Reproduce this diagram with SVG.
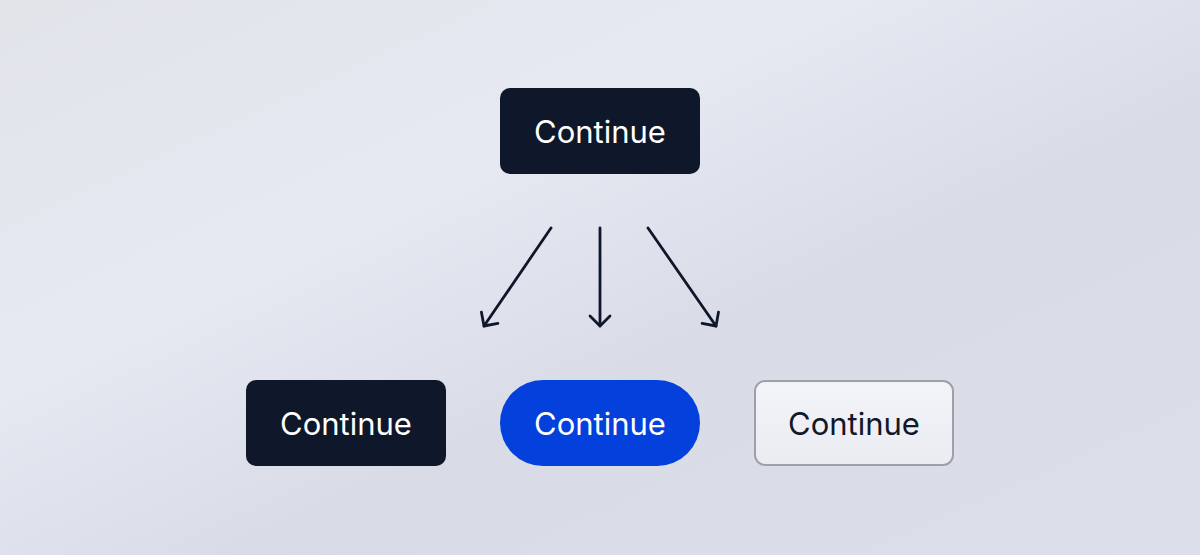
<svg xmlns="http://www.w3.org/2000/svg" width="1200" height="555" viewBox="0 0 1200 555">
<defs>
<linearGradient id="bg" x1="0" y1="0" x2="1" y2="1">
<stop offset="0" stop-color="#e2e4ea"/>
<stop offset="0.35" stop-color="#e6e9f2"/>
<stop offset="0.6" stop-color="#d9dce7"/>
<stop offset="1" stop-color="#dcdfe9"/>
</linearGradient>
<linearGradient id="light" x1="0" y1="0" x2="0" y2="1">
<stop offset="0" stop-color="#f3f4f8"/>
<stop offset="1" stop-color="#eaecf2"/>
</linearGradient>
<marker id="ah" viewBox="0 0 24 24" refX="12" refY="12" markerWidth="24" markerHeight="24" markerUnits="userSpaceOnUse" orient="auto">
<path d="M2,2 L12,12 L2,22" fill="none" stroke="#0f172a" stroke-width="2.8" stroke-linecap="round" stroke-linejoin="round"/>
</marker>
<style>
.lbl{font-family:Inter,"Liberation Sans",sans-serif;font-size:31px;text-anchor:middle;dominant-baseline:central}
.w{fill:#ffffff}
.d{fill:#111827}
.ar{stroke:#0f172a;stroke-width:2.8;fill:none;stroke-linecap:round;marker-end:url(#ah)}
</style>
</defs>
<rect width="1200" height="555" fill="url(#bg)"/>
<g id="top">
<rect x="500" y="88" width="200" height="86" rx="10" fill="#0f172a"/>
<text class="lbl w" x="600" y="131">Continue</text>
</g>
<g id="connectors">
<line class="ar" x1="551" y1="228" x2="484" y2="326"/>
<line class="ar" x1="600" y1="228" x2="600" y2="326"/>
<line class="ar" x1="648" y1="228" x2="716" y2="326"/>
</g>
<g id="left">
<rect x="246" y="380" width="200" height="86" rx="10" fill="#0f172a"/>
<text class="lbl w" x="346" y="423">Continue</text>
</g>
<g id="middle">
<rect x="500" y="380" width="200" height="86" rx="43" fill="#0340dc"/>
<text class="lbl w" x="600" y="423">Continue</text>
</g>
<g id="right">
<rect x="755" y="381" width="198" height="84" rx="10" fill="url(#light)" stroke="#9ca0a8" stroke-width="2"/>
<text class="lbl d" x="854" y="423">Continue</text>
</g>
</svg>
